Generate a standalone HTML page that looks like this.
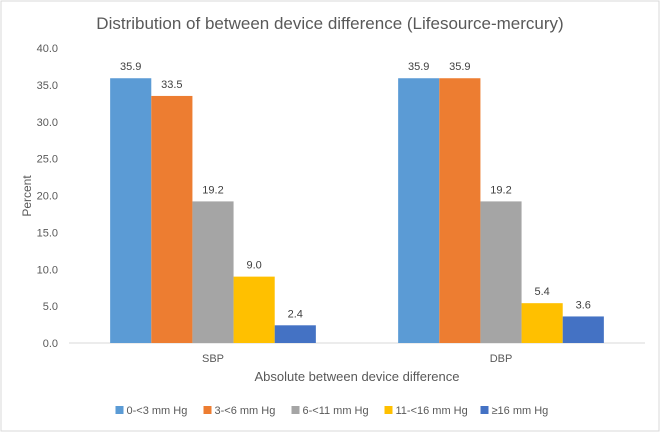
<!DOCTYPE html>
<html><head><meta charset="utf-8"><style>
html,body{margin:0;padding:0;background:#fff;}
#wrap{position:relative;width:661px;height:433px;overflow:hidden;font-family:"Liberation Sans",sans-serif;}
svg text{font-family:"Liberation Sans",sans-serif;}
</style></head><body>
<div id="wrap">
<svg id="chart" width="661" height="433">
<rect x="1" y="1" width="658" height="430" fill="#fff" stroke="#d9d9d9"/>
<text x="330" y="29" text-anchor="middle" font-size="17" fill="#595959">Distribution of between device difference (Lifesource-mercury)</text>
<text transform="translate(31,196) rotate(-90)" text-anchor="middle" font-size="12" fill="#595959">Percent</text>
<text x="357" y="381" text-anchor="middle" font-size="13" fill="#595959">Absolute between device difference</text>
<g id="yticks"></g><g id="bars"></g><g id="labels"></g><g id="xcats"></g><g id="legend"></g>
</svg>
</div>
<script>
const categories = ["SBP", "DBP"];
const seriesNames = ["0-<3 mm Hg", "3-<6 mm Hg", "6-<11 mm Hg", "11-<16 mm Hg", "\u226516 mm Hg"];
const series0 = [35.9, 35.9];
const series1 = [33.5, 35.9];
const series2 = [19.2, 19.2];
const series3 = [9.0, 5.4];
const series4 = [2.4, 3.6];
const yTicks = [0, 5, 10, 15, 20, 25, 30, 35, 40];
const colors = ["#5B9BD5", "#ED7D31", "#A5A5A5", "#FFC000", "#4472C4"];
const allSeries = [series0, series1, series2, series3, series4];

const NS = "http://www.w3.org/2000/svg";
const plotL = 69, plotR = 645, y0 = 343, yTop = 48, yMax = 40;
const yScale = v => y0 - (v / yMax) * (y0 - yTop);
const catW = (plotR - plotL) / categories.length;
const barW = catW / (allSeries.length + 2);
const xCat = i => plotL + catW * i + catW / 2;
function mk(tag, attrs, parent) {
  const e = document.createElementNS(NS, tag);
  for (const k in attrs) e.setAttribute(k, attrs[k]);
  document.getElementById(parent).appendChild(e);
  return e;
}
yTicks.forEach(t => {
  const e = mk("text", {x: 58, y: yScale(t) + 4, "text-anchor": "end", "font-size": 11, fill: "#595959"}, "yticks");
  e.textContent = t.toFixed(1);
  
  
});
const ax = mk("line", {x1: plotL, x2: plotR, y1: y0, y2: y0, stroke: "#d9d9d9", "stroke-width": 1}, "yticks");


categories.forEach((c, i) => {
  const gx = xCat(i) - barW * allSeries.length / 2;
  allSeries.forEach((s, j) => {
    const v = s[i];
    const r = mk("rect", {x: gx + j * barW, y: yScale(v), width: barW, height: y0 - yScale(v), fill: colors[j]}, "bars");
    
    
    const t = mk("text", {x: gx + j * barW + barW / 2, y: yScale(v) - 8, "text-anchor": "middle", "font-size": 11, fill: "#404040"}, "labels");
    t.textContent = v.toFixed(1);
    
    
  });
  const ct = mk("text", {x: xCat(i), y: 362, "text-anchor": "middle", "font-size": 11, fill: "#595959"}, "xcats");
  ct.textContent = c;
  
  
});
// legend
const widths = [70, 70, 75, 78, 64];
const gap = 18;
let total = widths.reduce((a, b) => a + b, 0) + gap * (widths.length - 1);
let lx = 330 - total / 2;
seriesNames.forEach((n, j) => {
  const sq = mk("rect", {x: lx, y: 406, width: 8, height: 8, fill: colors[j]}, "legend");
  
  
  const t = mk("text", {x: lx + 11, y: 414, "font-size": 11, fill: "#595959"}, "legend");
  t.textContent = n;
  
  
  lx += widths[j] + gap;
});
</script>
</body></html>
